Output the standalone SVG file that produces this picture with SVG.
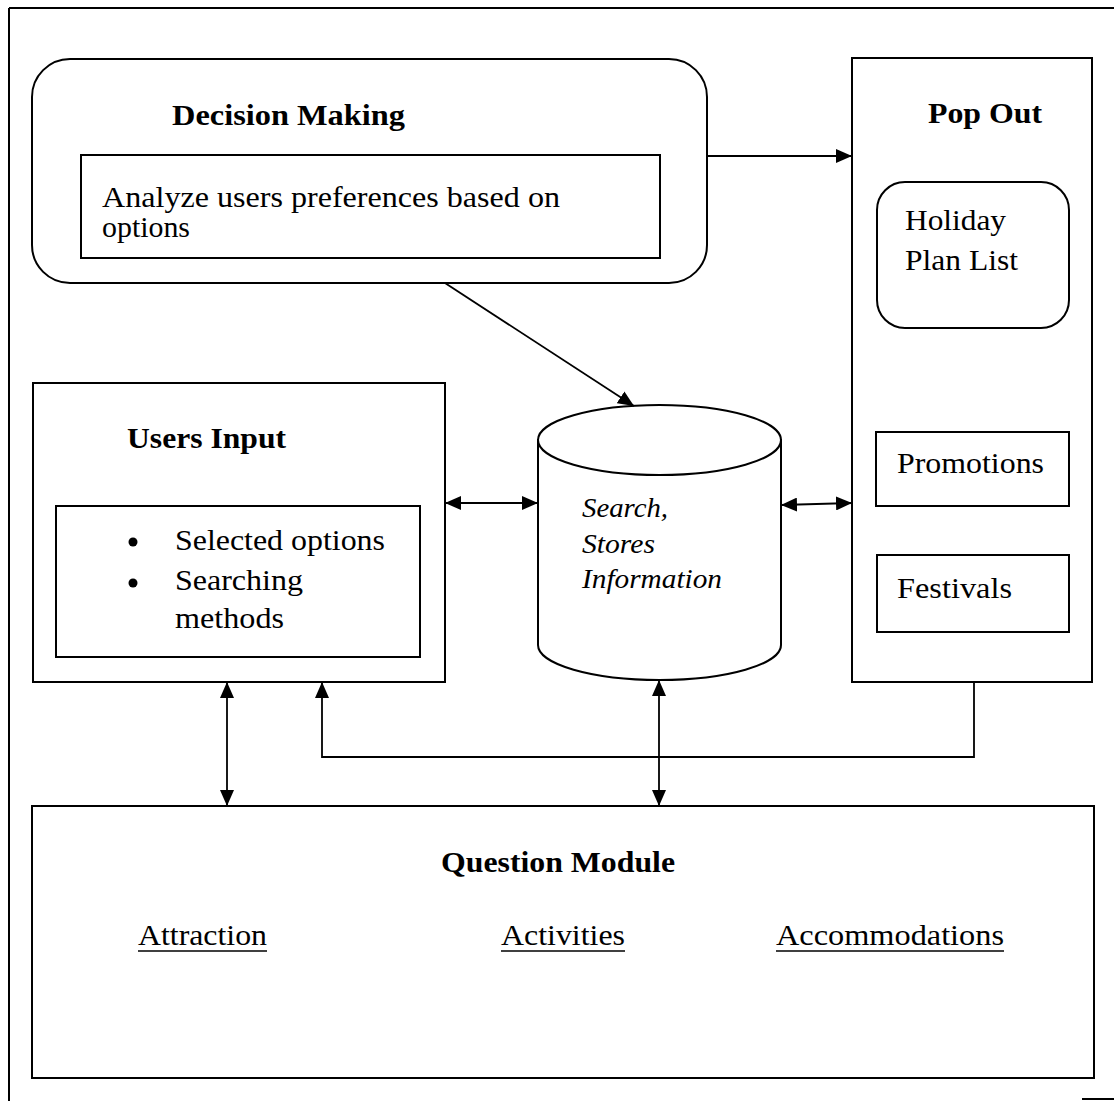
<svg xmlns="http://www.w3.org/2000/svg" width="1114" height="1101" viewBox="0 0 1114 1101">
  <style>
    .box { fill: #fff; stroke: #000; stroke-width: 2; }
    .frame { fill: none; stroke: #000; stroke-width: 2; }
    .wire { fill: none; stroke: #000; stroke-width: 1.8; }
    .title { font-weight: bold; font-size: 30px; fill: #000; }
    .body { font-size: 30px; fill: #000; }
    .db { font-style: italic; font-size: 28px; fill: #000; }
    .uline { stroke: #000; stroke-width: 1.6; }
  </style>
  <defs>
    <marker id="head" viewBox="0 0 16 14" refX="16" refY="7" markerWidth="16" markerHeight="14" markerUnits="userSpaceOnUse" orient="auto-start-reverse">
      <path d="M0,0 L16,7 L0,14 Z" fill="#000"/>
    </marker>
  </defs>

  <rect width="1114" height="1101" fill="#fff"/>

  <!-- page frame -->
  <g id="page-frame">
    <line class="frame" x1="9" y1="8" x2="1114" y2="8"/>
    <line class="frame" x1="9" y1="8" x2="9" y2="1101"/>
    <line class="frame" x1="1082" y1="1099" x2="1114" y2="1099"/>
  </g>

  <g font-family="Liberation Serif, Times New Roman, serif">
  <!-- Decision Making -->
  <g id="decision-making">
    <rect class="box" x="32" y="59" width="675" height="224" rx="38" ry="38"/>
    <text class="title" x="172" y="125" textLength="233" lengthAdjust="spacingAndGlyphs">Decision Making</text>
    <rect class="box" x="81" y="155" width="579" height="103"/>
    <text class="body" x="102" y="207" textLength="458" lengthAdjust="spacingAndGlyphs">Analyze users preferences based on</text>
    <text class="body" x="102" y="237" textLength="88" lengthAdjust="spacingAndGlyphs">options</text>
  </g>

  <!-- Pop Out -->
  <g id="pop-out">
    <rect class="box" x="852" y="58" width="240" height="624"/>
    <text class="title" x="928" y="123" textLength="114" lengthAdjust="spacingAndGlyphs">Pop Out</text>
    <rect class="box" x="877" y="182" width="192" height="146" rx="28" ry="28"/>
    <text class="body" x="905" y="230" textLength="101" lengthAdjust="spacingAndGlyphs">Holiday</text>
    <text class="body" x="905" y="270" textLength="113" lengthAdjust="spacingAndGlyphs">Plan List</text>
    <rect class="box" x="876" y="432" width="193" height="74"/>
    <text class="body" x="897" y="473" textLength="147" lengthAdjust="spacingAndGlyphs">Promotions</text>
    <rect class="box" x="877" y="555" width="192" height="77"/>
    <text class="body" x="897" y="598" textLength="115" lengthAdjust="spacingAndGlyphs">Festivals</text>
  </g>

  <!-- Users Input -->
  <g id="users-input">
    <rect class="box" x="33" y="383" width="412" height="299"/>
    <text class="title" x="127" y="448" textLength="159" lengthAdjust="spacingAndGlyphs">Users Input</text>
    <rect class="box" x="56" y="506" width="364" height="151"/>
    <circle cx="133" cy="542" r="4.5" fill="#000"/>
    <circle cx="133" cy="583" r="4.5" fill="#000"/>
    <text class="body" x="175" y="550" textLength="210" lengthAdjust="spacingAndGlyphs">Selected options</text>
    <text class="body" x="175" y="590" textLength="128" lengthAdjust="spacingAndGlyphs">Searching</text>
    <text class="body" x="175" y="628" textLength="109" lengthAdjust="spacingAndGlyphs">methods</text>
  </g>

  <!-- information store -->
  <g id="store">
    <path class="box" d="M538,440 V645 A121.5,35 0 0 0 781,645 V440 Z"/>
    <ellipse class="box" cx="659.5" cy="440" rx="121.5" ry="35"/>
    <text class="db" x="582" y="517" textLength="86" lengthAdjust="spacingAndGlyphs">Search,</text>
    <text class="db" x="582" y="553" textLength="73" lengthAdjust="spacingAndGlyphs">Stores</text>
    <text class="db" x="582" y="588" textLength="140" lengthAdjust="spacingAndGlyphs">Information</text>
  </g>

  <!-- Question Module -->
  <g id="question-module">
    <rect class="box" x="32" y="806" width="1062" height="272"/>
    <text class="title" x="441" y="872" textLength="234" lengthAdjust="spacingAndGlyphs">Question Module</text>
    <text class="body" x="138" y="945" textLength="129" lengthAdjust="spacingAndGlyphs">Attraction</text>
    <line class="uline" x1="138" y1="951" x2="267" y2="951"/>
    <text class="body" x="501" y="945" textLength="124" lengthAdjust="spacingAndGlyphs">Activities</text>
    <line class="uline" x1="501" y1="951" x2="625" y2="951"/>
    <text class="body" x="776" y="945" textLength="228" lengthAdjust="spacingAndGlyphs">Accommodations</text>
    <line class="uline" x1="776" y1="951" x2="1004" y2="951"/>
  </g>
  </g>

  <!-- connectors -->
  <g id="connectors">
    <line class="wire" x1="707" y1="156" x2="852" y2="156" marker-end="url(#head)"/>
    <line class="wire" x1="445" y1="283" x2="634" y2="406" marker-end="url(#head)"/>
    <line class="wire" x1="445" y1="503" x2="538" y2="503" marker-start="url(#head)" marker-end="url(#head)"/>
    <line class="wire" x1="781" y1="505" x2="852" y2="503" marker-start="url(#head)" marker-end="url(#head)"/>
    <line class="wire" x1="227" y1="682" x2="227" y2="806" marker-start="url(#head)" marker-end="url(#head)"/>
    <path class="wire" d="M974,682 V757 H322 V682" marker-end="url(#head)"/>
    <line class="wire" x1="659" y1="680" x2="659" y2="806" marker-start="url(#head)" marker-end="url(#head)"/>
  </g>
</svg>
